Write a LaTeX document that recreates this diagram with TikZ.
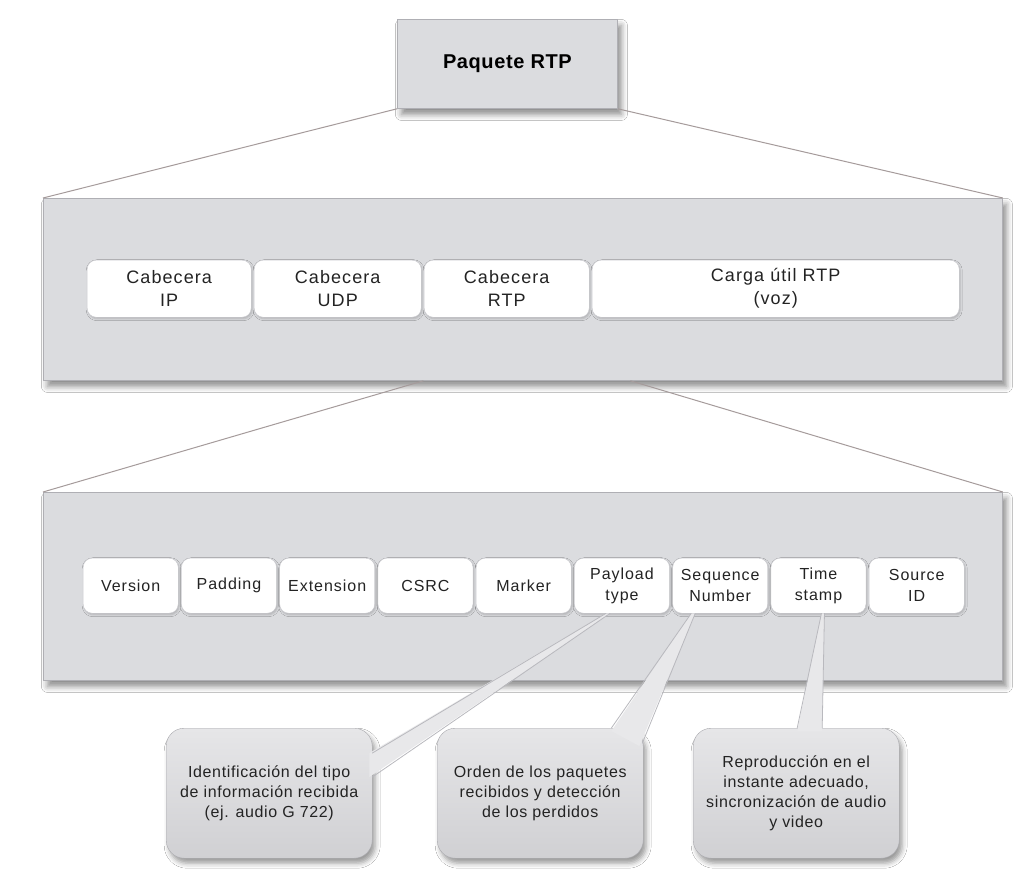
\documentclass[tikz,border=0pt]{standalone}
\usepackage{fontspec}
\setmainfont{Liberation Sans}
\newfontfamily\titlefont{Liberation Sans}[LetterSpace=3]
\newfontfamily\fieldfont{Liberation Sans}[LetterSpace=6]
\newfontfamily\notefont{Liberation Sans}[LetterSpace=4]
\usetikzlibrary{shadows.blur}

\definecolor{panel}{RGB}{219,220,223}
\definecolor{panelline}{RGB}{175,175,180}
\definecolor{linkline}{RGB}{165,155,155}
\definecolor{fieldline}{RGB}{200,200,205}
\definecolor{ink}{RGB}{35,35,35}
\definecolor{notetop}{RGB}{230,230,232}
\definecolor{notebot}{RGB}{208,208,211}
\definecolor{notebord}{RGB}{170,170,175}
\definecolor{wedgefill}{RGB}{232,232,234}
\definecolor{wedgeline}{RGB}{185,185,190}

\tikzset{
  panelbox/.style={draw=panelline, fill=panel, line width=0.8pt, inner sep=0pt,
    anchor=north west,
    blur shadow={shadow xshift=4pt, shadow yshift=-6pt, shadow blur radius=6pt, shadow opacity=45}},
  field/.style={draw=fieldline, fill=white, rounded corners=9pt, inner sep=0pt,
    anchor=north west, align=center, text=ink,
    font=\fieldfont\fontsize{16pt}{21pt}\selectfont,
    blur shadow={shadow xshift=1pt, shadow yshift=-1.5pt, shadow blur radius=2pt, shadow opacity=20}},
  wide/.style={minimum width=#1, minimum height=57pt,
    font=\fieldfont\fontsize{18pt}{23pt}\selectfont},
  cell/.style={minimum width=95pt, minimum height=55pt},
  note/.style={draw=notebord, top color=notetop, bottom color=notebot, rounded corners=18pt,
    anchor=north west, minimum width=206pt, minimum height=130pt, inner sep=0pt,
    align=center, text=ink, font=\notefont\fontsize{16pt}{20pt}\selectfont,
    blur shadow={shadow xshift=3pt, shadow yshift=-5pt, shadow blur radius=5pt, shadow opacity=40}},
  link/.style={draw=linkline, line width=1pt},
  wedge/.style={fill=wedgefill},
  wedgeside/.style={draw=wedgeline, line width=0.8pt, line cap=round},
}

\begin{document}
\begin{tikzpicture}[x=1pt,y=-1pt]
\useasboundingbox[fill=white] (0,0) rectangle (1020,869);

% the three nested levels
\node[panelbox, minimum width=220pt, minimum height=89pt] (pkt) at (397,19)
  {\titlefont\bfseries\fontsize{20pt}{24pt}\selectfont Paquete RTP};
\node[panelbox, minimum width=959pt, minimum height=182pt] (frame) at (43,198) {};
\node[panelbox, minimum width=959pt, minimum height=188pt] (hdr) at (43,492) {};

% expansion lines between levels
\draw[link] (pkt.south west) -- (frame.north west);
\draw[link] (pkt.south east) -- (frame.north east);
\draw[link] ([xshift=-99.5pt]frame.south) -- (hdr.north west);
\draw[link] ([xshift=107.5pt]frame.south) -- (hdr.north east);

% packet layout
\node[field, wide=164pt] (ip)   at (87,260)  {Cabecera\\IP};
\node[field, wide=167pt] (udp)  at (254,260) {Cabecera\\UDP};
\node[field, wide=165pt] (rtph) at (424,260) {Cabecera\\RTP};
\node[field, wide=367pt] (load) at (592,260) {Carga útil RTP\\(voz)};

% RTP header fields
\node[field, cell] (ver)   at (83,558)     {Version};
\node[field, cell] (pad)   at (181.25,558) {Padding};
\node[field, cell] (ext)   at (279.5,558)  {Extension};
\node[field, cell] (csrc)  at (377.75,558) {CSRC};
\node[field, cell] (mark)  at (476,558)    {Marker};
\node[field, cell] (ptype) at (574.25,558) {Payload\\type};
\node[field, cell] (seq)   at (672.5,558)  {Sequence\\Number};
\node[field, cell] (ts)    at (770.75,558) {Time\\stamp};
\node[field, cell] (src)   at (869,558)    {Source\\ID};

% explanatory callouts
\node[note] (nptype) at (166,728) {Identificación del tipo\\de información recibida\\(ej. audio G 722)};
\node[note] (nseq)   at (437,728) {Orden de los paquetes\\recibidos y detección\\de los perdidos};
\node[note] (nts)    at (693,728) {Reproducción en el\\instante adecuado,\\sincronización de audio\\y video};

% callout pointers
\fill[wedge] ([xshift=-16pt]ptype.south) -- ([xshift=-12pt]ptype.south)
  -- ([xshift=-3pt,yshift=-49pt]nptype.north east) -- ([xshift=-3pt,yshift=-25pt]nptype.north east) -- cycle;
\draw[wedgeside] ([xshift=-16pt]ptype.south) -- ([xshift=0pt,yshift=-25pt]nptype.north east);
\draw[wedgeside] ([xshift=-12pt]ptype.south) -- ([xshift=0pt,yshift=-49pt]nptype.north east);

\fill[wedge] ([xshift=-29pt]seq.south) -- ([xshift=-25pt]seq.south)
  -- ([xshift=-4pt,yshift=-18pt]nseq.north east) -- ([xshift=-32pt,yshift=-3pt]nseq.north east) -- cycle;
\draw[wedgeside] ([xshift=-29pt]seq.south) -- ([xshift=-32pt,yshift=0pt]nseq.north east);
\draw[wedgeside] ([xshift=-25pt]seq.south) -- ([xshift=-1pt,yshift=-15pt]nseq.north east);

\fill[wedge] ([xshift=3pt]ts.south) -- ([xshift=6pt]ts.south)
  -- ([xshift=26pt,yshift=-3pt]nts.north) -- ([xshift=1pt,yshift=-3pt]nts.north) -- cycle;
\draw[wedgeside] ([xshift=3pt]ts.south) -- ([xshift=1pt]nts.north);
\draw[wedgeside] ([xshift=6pt]ts.south) -- ([xshift=26pt]nts.north);
\end{tikzpicture}
\end{document}
